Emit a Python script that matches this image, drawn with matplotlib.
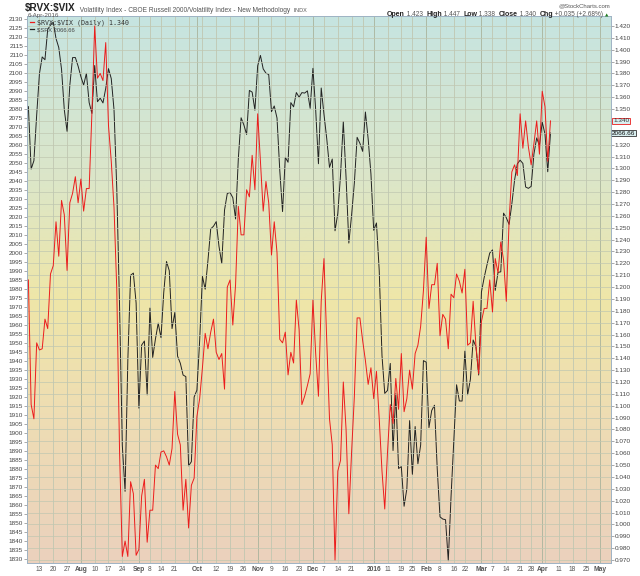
from matplotlib import pyplot as plt
from matplotlib.colors import LinearSegmentedColormap
from matplotlib.lines import Line2D
import numpy as np
import pandas as pd

# trading calendar of the chart (NYSE holidays inside the window)
holidays = ['2015-09-07', '2015-11-26', '2015-12-25', '2016-01-01',
            '2016-01-18', '2016-02-15', '2016-03-25']
first_day = '2015-07-07'
axis_end = '2016-05-13'

# $SPX daily closes, 7-Jul-2015 .. 6-Apr-2016
spx = [2081.34, 2046.68, 2051.31, 2076.62, 2099.60, 2108.95, 2107.40, 2124.29, 2126.64, 2128.28,
       2119.21, 2114.15, 2102.15, 2079.65, 2067.64, 2093.25, 2108.57, 2108.63, 2103.84, 2098.04,
       2093.32, 2099.84, 2083.56, 2077.57, 2104.18, 2084.07, 2086.05, 2083.39, 2091.54, 2102.44,
       2096.92, 2079.61, 2035.73, 1970.89, 1893.21, 1867.61, 1940.51, 1987.66, 1988.87, 1972.18,
       1913.85, 1948.86, 1951.13, 1921.22, 1969.41, 1942.04, 1952.29, 1961.05, 1953.03, 1978.09,
       1995.31, 1990.20, 1958.03, 1966.97, 1942.74, 1938.76, 1932.24, 1931.34, 1881.77, 1884.09,
       1920.03, 1923.82, 1951.36, 1987.05, 1979.92, 1995.83, 2013.43, 2014.89, 2017.46, 2003.69,
       1994.24, 2023.86, 2033.11, 2033.66, 2030.77, 2018.94, 2052.51, 2075.15, 2071.18, 2065.89,
       2090.35, 2089.41, 2079.36, 2104.05, 2109.79, 2102.31, 2099.93, 2099.20, 2078.58, 2081.72,
       2075.00, 2045.97, 2023.04, 2053.19, 2050.44, 2083.58, 2081.24, 2089.17, 2086.59, 2089.14,
       2088.87, 2090.11, 2080.41, 2102.63, 2079.51, 2049.62, 2091.69, 2077.07, 2063.59, 2047.62,
       2052.23, 2012.37, 2021.94, 2043.41, 2073.07, 2041.89, 2005.55, 2021.15, 2038.97, 2064.29,
       2060.99, 2056.50, 2078.36, 2063.36, 2043.94, 2012.66, 2016.71, 1990.26, 1943.09, 1922.03,
       1923.67, 1938.68, 1890.28, 1921.84, 1880.33, 1881.33, 1859.33, 1868.99, 1906.90, 1877.08,
       1903.63, 1882.95, 1893.36, 1940.24, 1939.38, 1903.03, 1912.53, 1915.45, 1880.05, 1853.44,
       1852.21, 1851.86, 1829.08, 1864.78, 1895.58, 1926.82, 1917.83, 1917.78, 1945.50, 1921.27,
       1929.80, 1951.70, 1948.05, 1932.23, 1978.35, 1986.45, 1993.40, 1999.99, 2001.76, 1979.26,
       1989.26, 1989.57, 2022.19, 2019.64, 2015.93, 2027.22, 2040.59, 2049.58, 2051.60, 2049.80,
       2036.71, 2035.94, 2037.05, 2055.01, 2063.95, 2059.74, 2072.78, 2066.13, 2045.17, 2066.66]

# $RVX:$VIX ratio
ratio = [1.206, 1.101, 1.089, 1.153, 1.147, 1.148, 1.173, 1.165, 1.211, 1.218,
         1.255, 1.226, 1.273, 1.261, 1.214, 1.271, 1.279, 1.293, 1.271, 1.291,
         1.264, 1.283, 1.283, 1.347, 1.420, 1.376, 1.380, 1.374, 1.406, 1.336,
         1.306, 1.267, 1.198, 1.062, 0.973, 0.986, 0.973, 1.036, 1.026, 0.974,
         0.979, 1.024, 1.038, 0.985, 1.012, 1.012, 1.050, 1.047, 1.061, 1.062,
         1.057, 1.050, 1.064, 1.112, 1.076, 1.067, 1.012, 1.038, 0.997, 1.033,
         1.039, 1.091, 1.106, 1.132, 1.161, 1.148, 1.162, 1.173, 1.145, 1.139,
         1.144, 1.114, 1.200, 1.206, 1.168, 1.202, 1.268, 1.244, 1.244, 1.282,
         1.276, 1.311, 1.282, 1.346, 1.306, 1.264, 1.289, 1.271, 1.227, 1.255,
         1.229, 1.156, 1.153, 1.162, 1.126, 1.145, 1.136, 1.189, 1.164, 1.101,
         1.108, 1.117, 1.127, 1.189, 1.144, 1.108, 1.188, 1.224, 1.155, 1.089,
         1.067, 0.970, 1.045, 1.054, 1.120, 1.080, 1.009, 1.061, 1.108, 1.174,
         1.174, 1.155, 1.138, 1.118, 1.132, 1.106, 1.129, 1.089, 1.045, 1.013,
         1.061, 1.101, 1.085, 1.123, 1.097, 1.144, 1.095, 1.106, 1.130, 1.114,
         1.144, 1.151, 1.167, 1.197, 1.242, 1.182, 1.202, 1.202, 1.220, 1.159,
         1.177, 1.173, 1.148, 1.194, 1.191, 1.211, 1.205, 1.195, 1.215, 1.151,
         1.153, 1.188, 1.151, 1.127, 1.171, 1.182, 1.182, 1.206, 1.179, 1.224,
         1.212, 1.238, 1.223, 1.188, 1.255, 1.297, 1.303, 1.294, 1.346, 1.317,
         1.340, 1.318, 1.303, 1.321, 1.340, 1.312, 1.365, 1.352, 1.306, 1.340]

tick_dates = ['2015-07-13', '2015-07-20', '2015-07-27', '2015-08-03', '2015-08-10',
              '2015-08-17', '2015-08-24', '2015-09-01', '2015-09-08', '2015-09-14',
              '2015-09-21', '2015-10-01', '2015-10-12', '2015-10-19', '2015-10-26',
              '2015-11-02', '2015-11-09', '2015-11-16', '2015-11-23', '2015-12-01',
              '2015-12-07', '2015-12-14', '2015-12-21', '2016-01-04', '2016-01-11',
              '2016-01-19', '2016-01-25', '2016-02-01', '2016-02-08', '2016-02-16',
              '2016-02-22', '2016-03-01', '2016-03-07', '2016-03-14', '2016-03-21',
              '2016-03-28', '2016-04-01', '2016-04-11', '2016-04-18', '2016-04-25',
              '2016-05-02']
tick_labels = ['13', '20', '27', 'Aug', '10', '17', '24', 'Sep', '8', '14', '21', 'Oct',
               '12', '19', '26', 'Nov', '9', '16', '23', 'Dec', '7', '14', '21', '2016',
               '11', '19', '25', 'Feb', '8', '16', '22', 'Mar', '7', '14', '21', '28',
               'Apr', '11', '18', '25', 'May']
extra_grid_dates = ['2015-09-28', '2015-10-05', '2015-12-28', '2016-04-04']

W, H = 640, 576


def fxy(x, y):
    """pixel position (from top-left) to figure fraction"""
    return x / W, 1 - y / H


def put_row(fig, x, y, pieces, ha='left'):
    """write text pieces one after another on one baseline"""
    r = fig.canvas.get_renderer()
    texts = []
    cur = x
    for s, kw in pieces:
        t = fig.text(*fxy(cur, y), s, va='baseline', **kw)
        cur += t.get_window_extent(r).width
        texts.append(t)
    if ha == 'right':
        shift = cur - x
        for t in texts:
            px, py = t.get_position()
            t.set_position((px - shift / W, py))
    return cur


def main():
    days = pd.bdate_range(first_day, axis_end, freq='C', holidays=holidays)
    x = np.arange(len(spx))
    tick_pos = [days.get_loc(pd.Timestamp(d)) for d in tick_dates]
    grid_pos = tick_pos + [days.get_loc(pd.Timestamp(d)) for d in extra_grid_dates]
    month_pos = [p for p, l in zip(tick_pos, tick_labels) if not l.isdigit() or l == '2016']

    plt.rcParams['font.family'] = ['Liberation Sans', 'DejaVu Sans']
    fig = plt.figure(figsize=(W / 100, H / 100), dpi=100)
    ax = fig.add_axes([27 / W, 13 / H, 584 / W, 547 / H])
    ax2 = ax.twinx()

    # background gradient
    bg = LinearSegmentedColormap.from_list(
        'bg', [(0.0, '#c6e4e1'), (0.3, '#dce6c8'), (0.52, '#efe6a8'),
               (0.75, '#eedcb4'), (1.0, '#ebd1bd')])
    ax.imshow(np.linspace(0, 1, 256).reshape(-1, 1), cmap=bg, aspect='auto',
              extent=[0, 1, 0, 1], transform=ax.transAxes, zorder=0)

    ax.set_xlim(-0.5, 210.9)
    ax.set_ylim(1827.8, 2131.7)
    ax2.set_ylim(0.9675, 1.4284)

    for p in grid_pos:
        c = '#a9b39c' if p in month_pos else '#c0c7b1'
        ax.axvline(p, color=c, lw=0.6, zorder=1)
    for v in np.arange(0.97, 1.4201, 0.01):
        ax2.axhline(v, color='#c0c7b1', lw=0.5, zorder=1)

    ax.plot(x, spx, color='#222222', lw=0.7, zorder=3)
    ax2.plot(x, ratio, color='#ec1c1c', lw=0.7, zorder=3)

    # axes and ticks; the last-value flags cover 1.340 and 1.330
    r_ticks = np.arange(0.97, 1.4201, 0.01)
    r_labels = ['' if abs(v - 1.34) < 1e-6 or abs(v - 1.33) < 1e-6 else '%.3f' % v
                for v in r_ticks]
    ax.set_yticks(np.arange(1830, 2131, 5))
    ax.set_yticklabels(['%d' % v for v in np.arange(1830, 2131, 5)])
    ax2.set_yticks(r_ticks)
    ax2.set_yticklabels(r_labels)
    ax.set_xticks(tick_pos)
    ax.set_xticklabels(tick_labels)
    for t, l in zip(ax.get_xticklabels(), tick_labels):
        if not l.isdigit() or l == '2016':
            t.set_fontweight('bold')
            t.set_color('#222222')
    ax.tick_params(axis='y', labelsize=4.6, length=2, width=0.5, pad=0.8,
                   colors='#888888', labelcolor='#444444')
    ax2.tick_params(axis='y', labelsize=4.6, length=2, width=0.5, pad=0.8,
                    colors='#888888', labelcolor='#444444')
    ax.tick_params(axis='x', labelsize=4.8, length=0, pad=2.5, labelcolor='#555555')
    for a in (ax, ax2):
        for side in ('top', 'left', 'right'):
            a.spines[side].set_color('#9fb3c4')
            a.spines[side].set_linewidth(0.6)
        a.spines['bottom'].set_color('#9fb3c4')
        a.spines['bottom'].set_linestyle((0, (1, 1)))
        a.spines['bottom'].set_linewidth(0.6)
    ax2.spines['right'].set_linestyle((0, (1, 1)))

    # last value flags on the right axis
    ax2.annotate('1.340', xy=(1, ratio[-1]), xycoords=ax2.get_yaxis_transform(),
                 xytext=(1.5, 0), textcoords='offset points', va='center', ha='left',
                 fontsize=4.6, color='#333333',
                 bbox=dict(boxstyle='square,pad=0.1', fc='#d9eff0', ec='#ec1c1c', lw=0.6))
    ax.annotate('2066.66', xy=(1, spx[-1]), xycoords=ax.get_yaxis_transform(),
                xytext=(0.5, 0), textcoords='offset points', va='center', ha='left',
                fontsize=4.6, color='#111111',
                bbox=dict(boxstyle='square,pad=0.1', fc='#d9eff0', ec='#333333', lw=0.6))

    # header
    put_row(fig, 25, 11.5, [
        ('\\$RVX:\\$VIX', dict(fontsize=7.2, fontweight='bold', color='#222222')),
        ('  Volatility Index - CBOE Russell 2000/Volatility Index - New Methodology ',
         dict(fontsize=4.8, color='#555555')),
        (' INDX', dict(fontsize=4.0, color='#555555')),
    ])
    fig.text(*fxy(28, 16.8), '6-Apr-2016', fontsize=4.5, color='#555555', va='baseline')
    fig.text(*fxy(610, 7.5), '@StockCharts.com', fontsize=4.3, color='#555555',
             va='baseline', ha='right')
    b = dict(fontsize=5.0, fontweight='bold', color='#222222')
    n = dict(fontsize=4.7, color='#555555')
    put_row(fig, 603, 16.5, [
        ('Open', b), (' 1.423  ', n), ('High', b), (' 1.447  ', n), ('Low', b),
        (' 1.338  ', n), ('Close', b), (' 1.340  ', n), ('Chg', b),
        (' +0.035 (+2.68%)', n)], ha='right')
    fig.text(*fxy(604.5, 16.5), '\u25b2', fontsize=3.2, color='#1c7a1c', va='baseline',
             family='DejaVu Sans')

    # legend
    fig.add_artist(Line2D([30 / W, 34 / W], [1 - 22 / H, 1 - 22 / H], color='#ec1c1c', lw=0.9))
    fig.add_artist(Line2D([30 / W, 34 / W], [1 - 29 / H, 1 - 29 / H], color='#222222', lw=0.9))
    fig.text(*fxy(37, 24), '\\$RVX:\\$VIX (Daily) 1.340', fontsize=4.8,
             family='DejaVu Sans Mono', color='#333333', va='baseline')
    fig.text(*fxy(37, 31), '\\$SPX 2066.66', fontsize=4.2, color='#444444', va='baseline')

    fig.savefig('out.png', dpi=100)


if __name__ == '__main__':
    main()
